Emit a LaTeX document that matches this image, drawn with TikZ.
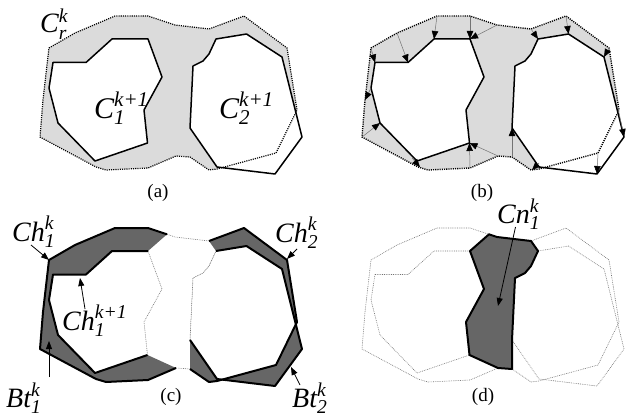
\documentclass[tikz,border=0pt]{standalone}
\usepackage{fontspec}
\setmainfont{Liberation Serif}
\usepackage{amsmath}
\usetikzlibrary{arrows.meta}
\def\CrP{(49,48) -- (75,33) -- (115,16) -- (148,16) -- (175,25) -- (209,29) -- (244,16) -- (287,48) -- (297,110) -- (276,153) -- (217,169) -- (209,170) -- (190,157) -- (176,156) -- (148,168) -- (106,170) -- (96,167) -- (40,137) -- (43,100) -- cycle}
\def\CoP{(53,62.5) -- (86,62.5) -- (112,39) -- (148,39) -- (162,77) -- (144,110) -- (147.5,143) -- (95,161) -- (58,123) -- (49,88) -- cycle}
\def\CtP{(216,39) -- (246.5,34) -- (282,57) -- (302,137) -- (275,174) -- (217,167) -- (190,128) -- (193,66) -- (203,61) -- (209,54) -- cycle}
\tikzset{
 cellline/.style={line width=1.5pt, line join=round},
 outerdot/.style={line width=1.2pt, dash pattern=on 1.1pt off 1.1pt},
 thindot/.style={black!55, line width=0.6pt, dash pattern=on 0.8pt off 1pt},
 corr/.style={black!55, line width=0.5pt, -{Triangle[length=8pt,width=6.5pt,color=black]}},
 lightfill/.style={fill=black!14},
 darkfill/.style={fill=black!60},
 boldline/.style={line width=2pt, line join=round},
 lab/.style={font=\fontsize{28}{30}\selectfont, inner sep=0pt},
 biglab/.style={font=\fontsize{30}{32}\selectfont, inner sep=0pt},
 captext/.style={font=\fontsize{19}{21}\selectfont, inner sep=0pt},
 pointer/.style={line width=0.8pt, -{Triangle[length=8pt,width=6pt]}}
}
\begin{document}
\begin{tikzpicture}[x=1pt,y=-1pt]
\useasboundingbox (0,0) rectangle (636,417);
% ---------- (a)
\begin{scope}
 \fill[lightfill] \CrP;
 \fill[white] \CoP;
 \fill[white] \CtP;
 \draw[outerdot] \CrP;
 \draw[cellline] \CoP;
 \draw[cellline] \CtP;
 \node[lab, anchor=base west] (lCr) at (40,33) {$\textit{C}^{\textit{k}}_{\textit{r}}$};
 \node[biglab, anchor=base west] (lC1) at (94,118) {$\textit{C}^{\textit{k+1}}_{\textit{1}}$};
 \node[biglab, anchor=base west] (lC2) at (219,118) {$\textit{C}^{\textit{k+1}}_{\textit{2}}$};
 \node[captext] (capa) at (158,193) {(a)};
\end{scope}
% ---------- (b)
\begin{scope}[shift={(322,0)}]
 \fill[lightfill] \CrP;
 \fill[white] \CoP;
 \fill[white] \CtP;
 \draw[outerdot, line width=1.4pt] \CrP;
 \draw[cellline] \CoP;
 \draw[cellline] \CtP;
 \draw[corr] (75,33) -- (86,62.5);
 \draw[corr] (115,16) -- (112,39);
 \draw[corr] (148,16) -- (148,39);
 \draw[corr] (175,25) -- (148,39);
 \draw[corr] (49,48) -- (53,62.5);
 \draw[corr] (49,88) -- (43,100);
 \draw[corr] (40,137) -- (58,123);
 \draw[corr] (90,158) -- (98,167);
 \draw[corr] (148,168) -- (147.5,143);
 \draw[corr] (176,156) -- (147.5,143);
 \draw[corr] (209,29) -- (216,39);
 \draw[corr] (244,16) -- (246.5,34);
 \draw[corr] (287,48) -- (282,57);
 \draw[corr] (296,108) -- (302,137);
 \draw[corr] (276,153) -- (275,174);
 \draw[corr] (217,163) -- (210,170);
 \draw[corr] (190,157) -- (190,128);
 \node[captext] (capb) at (160,193) {(b)};
\end{scope}
% ---------- (c)
\begin{scope}[shift={(0,212)}]
 \fill[darkfill] (167,22.3) -- (148,16) -- (115,16) -- (75,33) -- (49,48) -- (43,100) -- (40,137) -- (96,167) -- (106,170) -- (148,168) -- (176,156) -- (147.5,143) -- (95,161) -- (58,123) -- (49,88) -- (53,62.5) -- (86,62.5) -- (112,39) -- (148,39) -- cycle;
 \fill[darkfill, even odd rule] (209,29) -- (244,16) -- (287,48) -- (297,110) -- (276,153) -- (217,169) -- (209,170) -- (190,157) -- (190,128) -- (193,66) -- (203,61) -- (209,54) -- (216,39) -- cycle \CtP;
 \draw[thindot] (167,22.3) -- (175,25) -- (209,29);
 \draw[thindot] (176,156) -- (190,157);
 \draw[thindot] (148,39) -- (162,77) -- (144,110) -- (147.5,143);
 \draw[thindot] (190,128) -- (193,66) -- (203,61) -- (209,54) -- (216,39);
 \draw[boldline] (167,22.3) -- (148,16) -- (115,16) -- (75,33) -- (49,48) -- (43,100) -- (40,137) -- (96,167) -- (106,170) -- (148,168) -- (176,156);
 \draw[boldline] (147.5,143) -- (95,161) -- (58,123) -- (49,88) -- (53,62.5) -- (86,62.5) -- (112,39) -- (148,39);
 \draw[boldline] (209,29) -- (244,16) -- (287,48) -- (297,110) -- (276,153) -- (217,169) -- (209,170) -- (190,157);
 \draw[boldline] (216,39) -- (246.5,34) -- (282,57) -- (302,137) -- (275,174) -- (217,167) -- (190,128);
 \node[captext] (capc) at (171,185) {(c)};
\end{scope}
% ---------- (d)
\begin{scope}[shift={(322,212)}]
 \draw[thindot] \CrP;
 \draw[thindot] \CoP;
 \draw[thindot] \CtP;
 \filldraw[darkfill, boldline] (167,22.3) -- (175,25) -- (209,29) -- (216,39) -- (209,54) -- (203,61) -- (193,66) -- (190,128) -- (190,157) -- (176,156) -- (147.5,143) -- (144,110) -- (162,77) -- (148,39) -- cycle;
 \node[captext] (capd) at (161,185) {(d)};
\end{scope}
% ---------- labels of (c) and (d)
\node[lab, anchor=base west] (lCh1) at (12,241) {$\textit{Ch}^{\textit{k}}_{\textit{1}}$};
\coordinate (tCh1) at (31,245);
\coordinate (pCh1) at (49,260);
\draw[pointer] (tCh1) -- (pCh1);
\node[lab, anchor=base west] (lCh2) at (275,242) {$\textit{Ch}^{\textit{k}}_{\textit{2}}$};
\coordinate (tCh2) at (297,249);
\coordinate (pCh2) at (287,259);
\draw[pointer] (tCh2) -- (pCh2);
\node[lab, anchor=base west] (lCh1n) at (62,330) {$\textit{Ch}^{\textit{k+1}}_{\textit{1}}$};
\coordinate (tCh1n) at (85,309);
\coordinate (pCh1n) at (80,278);
\draw[pointer] (tCh1n) -- (pCh1n);
\node[lab, anchor=base west] (lBt1) at (6,407) {$\textit{Bt}^{\textit{k}}_{\textit{1}}$};
\coordinate (tBt1) at (49,377);
\coordinate (pBt1) at (49,341);
\draw[pointer] (tBt1) -- (pBt1);
\node[lab, anchor=base west] (lBt2) at (292,407) {$\textit{Bt}^{\textit{k}}_{\textit{2}}$};
\coordinate (tBt2) at (300,385);
\coordinate (pBt2) at (291,367);
\draw[pointer] (tBt2) -- (pBt2);
\node[lab, anchor=base west] (lCn1) at (497,223) {$\textit{Cn}^{\textit{k}}_{\textit{1}}$};
\coordinate (tCn1) at (515.5,227);
\coordinate (pCn1) at (498,306);
\draw[pointer] (tCn1) -- (pCn1);
\end{tikzpicture}
\end{document}
